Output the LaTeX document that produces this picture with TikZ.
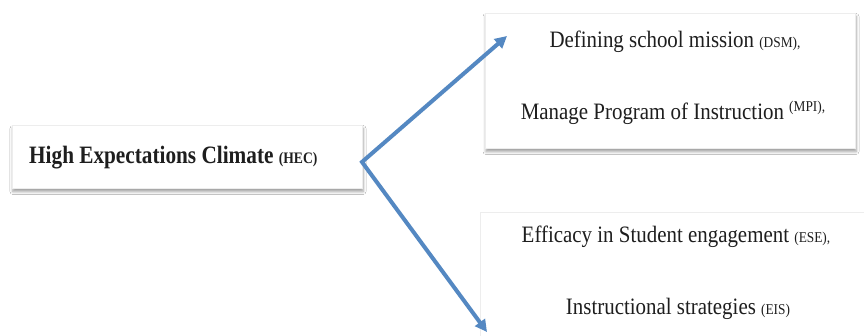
\documentclass[tikz,border=0pt]{standalone}
\usepackage{fontspec}
\setmainfont{Liberation Serif}
\newfontfamily\leadfont{Liberation Serif}[FakeStretch=0.85]
\newfontfamily\itemfont{Liberation Serif}[FakeStretch=0.89]
\usetikzlibrary{arrows.meta,shadows.blur}
\definecolor{linkblue}{RGB}{84,136,194}
\definecolor{inkgray}{RGB}{30,30,30}
\newcommand\abbrsub[1]{{\fontsize{15}{15}\selectfont #1}}
\newcommand\abbrsup[1]{\raisebox{8pt}{\fontsize{15}{15}\selectfont #1}}
\tikzset{
  panel/.style={draw=black!7, line width=0.5pt, fill=white, inner sep=0pt,
    blur shadow={shadow xshift=1pt, shadow yshift=-3.5pt,
      shadow blur radius=3pt, shadow opacity=40}},
  flatpanel/.style={draw=black!7, line width=0.5pt, fill=white, inner sep=0pt},
  leadtext/.style={font=\leadfont\bfseries\fontsize{25}{30}\selectfont,
    text=inkgray, inner sep=0pt, anchor=base west},
  itemtext/.style={font=\itemfont\fontsize{23.5}{28}\selectfont,
    text=inkgray, inner sep=0pt, anchor=base},
  link/.style={draw=linkblue, line width=4pt, line join=miter,
    {Triangle[length=12pt,width=12pt,fill=linkblue]}-{Triangle[length=12pt,width=12pt,fill=linkblue]}}
}
\begin{document}
\begin{tikzpicture}[x=1pt,y=-1pt]
  \useasboundingbox (0,0) rectangle (864,336);
  \fill[white] (0,0) rectangle (864,336);

  % panels
  \node[panel, minimum width=350pt, minimum height=63pt] (hecbox) at (187,156.5) {};
  \node[panel, minimum width=370pt, minimum height=135pt] (topbox) at (670,80.5) {};
  \node[flatpanel, minimum width=392pt, minimum height=138pt] (lowbox) at (676,281) {};

  % texts
  \node[leadtext] (hec) at (29,164)
    {High Expectations Climate {\fontsize{16}{16}\selectfont(HEC)}};
  \node[itemtext] (dsm) at (675,48) {Defining school mission \abbrsub{(DSM),}};
  \node[itemtext] (mpi) at (673,120) {Manage Program of Instruction \abbrsup{(MPI),}};
  \node[itemtext] (ese) at (676,243) {Efficacy in Student engagement \abbrsub{(ESE),}};
  \node[itemtext] (eis) at (678,315) {Instructional strategies \abbrsub{(EIS)}};

  % connectors from the lead panel
  \coordinate (fork) at (362,162);
  \coordinate (uptip) at (507,36);
  \coordinate (downtip) at (487,332);
  \draw[link] (uptip) -- (fork) -- (downtip);
\end{tikzpicture}
\end{document}
